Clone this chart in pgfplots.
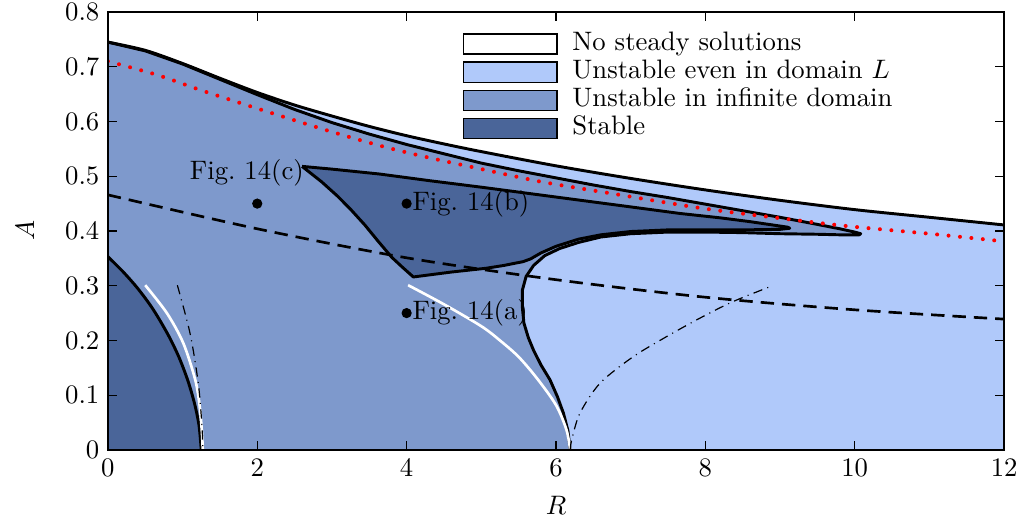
\documentclass[border=0pt]{standalone}
\usepackage{pgfplots}
\pgfplotsset{compat=1.18}

\definecolor{lightB}{RGB}{176,201,250}
\definecolor{midB}{RGB}{126,153,204}
\definecolor{darkB}{RGB}{74,101,153}

\begin{document}
\begin{tikzpicture}
\begin{axis}[
  name=ax,
  scale only axis,
  width=335.6pt, height=164pt,
  xmin=0, xmax=12, ymin=0, ymax=0.8,
  xtick={0,2,...,12},
  ytick={0,0.1,0.2,0.3,0.4,0.5,0.6,0.7,0.8},
  yticklabel style={/pgf/number format/fixed, anchor=east, inner sep=0pt, xshift=-3pt},
  xticklabel style={anchor=north, inner sep=0pt, yshift=-3.3pt},
  xlabel={$R$}, ylabel={$A$},
  every axis x label/.style={at={(axis description cs:0.5,0)}, yshift=-20.6pt, anchor=center},
  every axis y label/.style={at={(axis description cs:0,0.5)}, xshift=-31pt, rotate=90, anchor=center},
  major tick length=3.5pt,
  axis line style={line width=0.6pt},
  every tick/.style={line width=0.5pt, black},
  axis on top,
  legend cell align=left,
  legend style={at={(axis cs:4.64,0.774)}, anchor=north west, draw=none, fill=none,
    row sep=1.5pt, nodes={inner sep=0pt, text height=7pt, text depth=2pt},
    /tikz/every odd column/.append style={column sep=5.5pt}},
]

% region without steady solutions lies above this boundary
\addplot[fill=lightB, draw=none, smooth, forget plot] coordinates {
 (0,0.745) (0.5,0.730) (1,0.706) (1.5,0.679) (2,0.653) (2.5,0.630) (3,0.610)
 (3.5,0.591) (4,0.574) (4.5,0.559) (5,0.545) (6,0.519) (7,0.496) (8,0.475)
 (9,0.456) (10,0.439) (11,0.425) (12,0.411)} \closedcycle;

% unstable in infinite domain
\addplot[fill=midB, draw=none, forget plot] coordinates {
 (0,0.745) (0.5,0.729) (1,0.705) (1.5,0.677) (2,0.649) (2.5,0.622) (3,0.598)
 (3.5,0.577) (4,0.558) (4.5,0.541) (5,0.524) (5.5,0.510) (6,0.497) (6.5,0.484)
 (7,0.472) (7.5,0.461) (8,0.449) (8.5,0.437) (9,0.425) (9.5,0.412) (9.8,0.404)
 (10.0,0.398) (10.08,0.395)
 (10.06,0.393) (9.8,0.393) (9.5,0.394) (9,0.395) (8.5,0.397) (8,0.398) (7.5,0.398)
 (7.0,0.395) (6.6,0.389) (6.3,0.379) (6.05,0.368) (5.85,0.355) (5.7,0.337)
 (5.6,0.317) (5.55,0.292) (5.55,0.26) (5.57,0.232) (5.63,0.205) (5.7,0.182)
 (5.8,0.155) (5.92,0.128) (6.02,0.097) (6.1,0.067) (6.16,0.035) (6.19,0)} \closedcycle;

% outer boundary
\addplot[black, line width=1.1pt, smooth, forget plot] coordinates {
 (0,0.745) (0.5,0.730) (1,0.706) (1.5,0.679) (2,0.653) (2.5,0.630) (3,0.610)
 (3.5,0.591) (4,0.574) (4.5,0.559) (5,0.545) (6,0.519) (7,0.496) (8,0.475)
 (9,0.456) (10,0.439) (11,0.425) (12,0.411)};

% boundary of the infinite-domain instability
\addplot[black, line width=1.1pt, line join=round, forget plot] coordinates {
 (0,0.745) (0.5,0.729) (1,0.705) (1.5,0.677) (2,0.649) (2.5,0.622) (3,0.598)
 (3.5,0.577) (4,0.558) (4.5,0.541) (5,0.524) (5.5,0.510) (6,0.497) (6.5,0.484)
 (7,0.472) (7.5,0.461) (8,0.449) (8.5,0.437) (9,0.425) (9.5,0.412) (9.8,0.404)
 (10.0,0.398) (10.08,0.395)
 (10.06,0.393) (9.8,0.393) (9.5,0.394) (9,0.395) (8.5,0.397) (8,0.398) (7.5,0.398)
 (7.0,0.395) (6.6,0.389) (6.3,0.379) (6.05,0.368) (5.85,0.355) (5.7,0.337)
 (5.6,0.317) (5.55,0.292) (5.55,0.26) (5.57,0.232) (5.63,0.205) (5.7,0.182)
 (5.8,0.155) (5.92,0.128) (6.02,0.097) (6.1,0.067) (6.16,0.035) (6.19,0)};

% stable region (large)
\addplot[fill=darkB, draw=black, line width=1.1pt, line join=round, forget plot] coordinates {
 (2.6,0.518) (3.0,0.513) (3.64,0.504) (4.3,0.492) (5.0,0.480) (5.5,0.471)
 (6.0,0.462) (6.5,0.453) (7.0,0.444) (7.66,0.432) (8.2,0.424) (8.6,0.417)
 (8.9,0.411) (9.1,0.407) (9.13,0.405) (9.0,0.403) (8.5,0.402) (8.0,0.402)
 (7.5,0.402) (7.0,0.399) (6.6,0.393) (6.3,0.385) (6.0,0.372) (5.8,0.360)
 (5.66,0.349) (5.56,0.344) (5.3,0.337) (5.07,0.332) (4.6,0.325) (4.09,0.316)
 (3.95,0.333) (3.8,0.352) (3.62,0.381) (3.44,0.411) (3.26,0.438) (3.08,0.463)
 (2.86,0.490) (2.6,0.518)};

% stable region (small)
\addplot[fill=darkB, draw=none, smooth, forget plot] coordinates {
 (0,0.353) (0.2,0.326) (0.4,0.295) (0.6,0.258) (0.8,0.212) (0.95,0.170)
 (1.07,0.127) (1.16,0.085) (1.22,0.045) (1.25,0)} \closedcycle;
\addplot[black, line width=1.1pt, smooth, forget plot] coordinates {
 (0,0.353) (0.2,0.326) (0.4,0.295) (0.6,0.258) (0.8,0.212) (0.95,0.170)
 (1.07,0.127) (1.16,0.085) (1.22,0.045) (1.25,0)};

% white curves
\addplot[white, line width=1pt, smooth, forget plot] coordinates {
 (0.5,0.301) (0.79,0.250) (1.01,0.195) (1.17,0.128) (1.23,0.079) (1.26,0.03) (1.27,0)};
\addplot[white, line width=1pt, smooth, forget plot] coordinates {
 (4.02,0.301) (4.5,0.266) (5.0,0.226) (5.25,0.200) (5.5,0.170) (5.75,0.130)
 (6.0,0.082) (6.14,0.037) (6.19,0)};

% dash-dotted curves
\addplot[black, line width=0.45pt, smooth, dash pattern=on 3.5pt off 2pt on 0.4pt off 2pt, forget plot] coordinates {
 (0.93,0.301) (1.1,0.213) (1.21,0.122) (1.26,0.043) (1.27,0)};
\addplot[black, line width=0.45pt, smooth, dash pattern=on 3.5pt off 2pt on 0.4pt off 2pt, forget plot] coordinates {
 (6.19,0) (6.21,0.018) (6.32,0.067) (6.59,0.122) (7.03,0.170) (7.48,0.207)
 (7.93,0.241) (8.37,0.271) (8.9,0.300)};

% dashed curve
\addplot[black, line width=1pt, smooth, dash pattern=on 5pt off 3pt, forget plot] coordinates {
 (0,0.466) (2,0.404) (4,0.351) (6,0.311) (8,0.279) (10,0.256) (12,0.239)};

% red dotted curve
\addplot[red, line width=1.5pt, smooth, line cap=round, dash pattern=on 0pt off 4.3pt, forget plot] coordinates {
 (0,0.710) (0.66,0.685) (1.25,0.657) (1.88,0.629) (2.48,0.603) (3.1,0.577)
 (3.72,0.553) (4.33,0.533) (4.97,0.514) (5.8,0.490) (6.72,0.469) (7.93,0.442)
 (8.9,0.425) (9.89,0.409) (11,0.395) (12,0.381)};

% sample points
\addplot[only marks, mark=*, mark size=1.7pt, black, forget plot] coordinates {
 (2,0.45) (4,0.45) (4,0.25)};
\node[anchor=east, inner sep=0pt] at (axis cs:2.63,0.506) {Fig.~14(c)};
\node[anchor=west, inner sep=2pt] at (axis cs:4,0.45) {Fig.~14(b)};
\node[anchor=west, inner sep=2pt] at (axis cs:4,0.25) {Fig.~14(a)};

% legend
\addlegendimage{legend image code/.code={\draw[fill=white, draw=black, line width=0.5pt] (0pt,-3.75pt) rectangle (35pt,3.75pt);}}
\addlegendentry{No steady solutions}
\addlegendimage{legend image code/.code={\draw[fill=lightB, draw=black, line width=0.5pt] (0pt,-3.75pt) rectangle (35pt,3.75pt);}}
\addlegendentry{Unstable even in domain $L$}
\addlegendimage{legend image code/.code={\draw[fill=midB, draw=black, line width=0.5pt] (0pt,-3.75pt) rectangle (35pt,3.75pt);}}
\addlegendentry{Unstable in infinite domain}
\addlegendimage{legend image code/.code={\draw[fill=darkB, draw=black, line width=0.5pt] (0pt,-3.75pt) rectangle (35pt,3.75pt);}}
\addlegendentry{Stable}
\end{axis}
\pgfresetboundingbox
\path ([shift={(-40.4pt,-26.6pt)}]ax.south west) rectangle ([shift={(5.2pt,4.5pt)}]ax.north east);
\end{tikzpicture}
\end{document}
